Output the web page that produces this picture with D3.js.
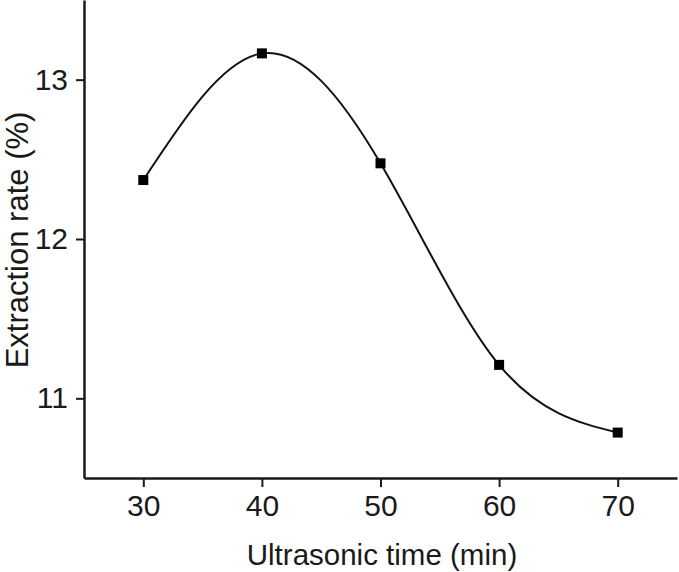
<!DOCTYPE html>
<html>
<head>
<meta charset="utf-8">
<script src="https://cdn.jsdelivr.net/npm/d3@7"></script>
<style>
  body { margin: 0; background: #fff; }
  text { font-family: "Liberation Sans", Arial, sans-serif; fill: #1a1a1a; }
</style>
</head>
<body>
<div id="chart"></div>
<script>
// data
const times = [30, 40, 50, 60, 70];
const rates = [12.37, 13.165, 12.475, 11.21, 10.785];
const xTicks = [30, 40, 50, 60, 70];
const yTicks = [11, 12, 13];

const W = 679, H = 572;
const margin = {top: 0, right: 2, bottom: 94, left: 84};
const width = W - margin.left - margin.right;
const height = H - margin.top - margin.bottom;

const svg = d3.select("#chart").append("svg")
  .attr("width", W)
  .attr("height", H);

const g = svg.append("g")
  .attr("transform", "translate(" + margin.left + "," + margin.top + ")");

const x = d3.scaleLinear().domain([25, 75]).range([0, width]);
const y = d3.scaleLinear().domain([10.5, 13.5]).range([height, 0]);

// x axis
const xAxis = g.append("g")
  .attr("transform", "translate(0," + height + ")")
  .call(d3.axisBottom(x).tickValues(xTicks).tickFormat(d3.format("d"))
    .tickSize(9).tickPadding(8).tickSizeOuter(0));
xAxis.select(".domain").attr("stroke", "#1a1a1a").attr("stroke-width", 2.5);
xAxis.selectAll(".tick line").attr("stroke", "#1a1a1a").attr("stroke-width", 2);
xAxis.selectAll(".tick text").attr("font-size", 30).style("fill", "#1a1a1a");

// y axis
const yAxis = g.append("g")
  .call(d3.axisLeft(y).tickValues(yTicks).tickFormat(d3.format("d"))
    .tickSize(8).tickPadding(8).tickSizeOuter(0));
yAxis.select(".domain").attr("stroke", "#1a1a1a").attr("stroke-width", 2.5);
yAxis.selectAll(".tick line").attr("stroke", "#1a1a1a").attr("stroke-width", 2);
yAxis.selectAll(".tick text").attr("font-size", 30).style("fill", "#1a1a1a");

// curve
const pts = times.map((t, i) => ({t: t, r: rates[i]}));
const line = d3.line()
  .x(d => x(d.t))
  .y(d => y(d.r))
  .curve(d3.curveNatural);

g.append("path")
  .datum(pts)
  .attr("fill", "none")
  .attr("stroke", "#111")
  .attr("stroke-width", 2)
  .attr("d", line);

// markers
const sq = 10;
g.selectAll("rect.pt")
  .data(pts)
  .enter().append("rect")
  .attr("class", "pt")
  .attr("x", d => x(d.t) - sq / 2)
  .attr("y", d => y(d.r) - sq / 2)
  .attr("width", sq)
  .attr("height", sq)
  .attr("fill", "#000");

// axis titles
svg.append("text")
  .attr("x", 382)
  .attr("y", 565)
  .attr("text-anchor", "middle")
  .attr("font-size", 29.5)
  .text("Ultrasonic time (min)");

svg.append("text")
  .attr("transform", "translate(28," + 240 + ") rotate(-90)")
  .attr("text-anchor", "middle")
  .attr("font-size", 31)
  .text("Extraction rate (%)");
</script>
</body>
</html>
